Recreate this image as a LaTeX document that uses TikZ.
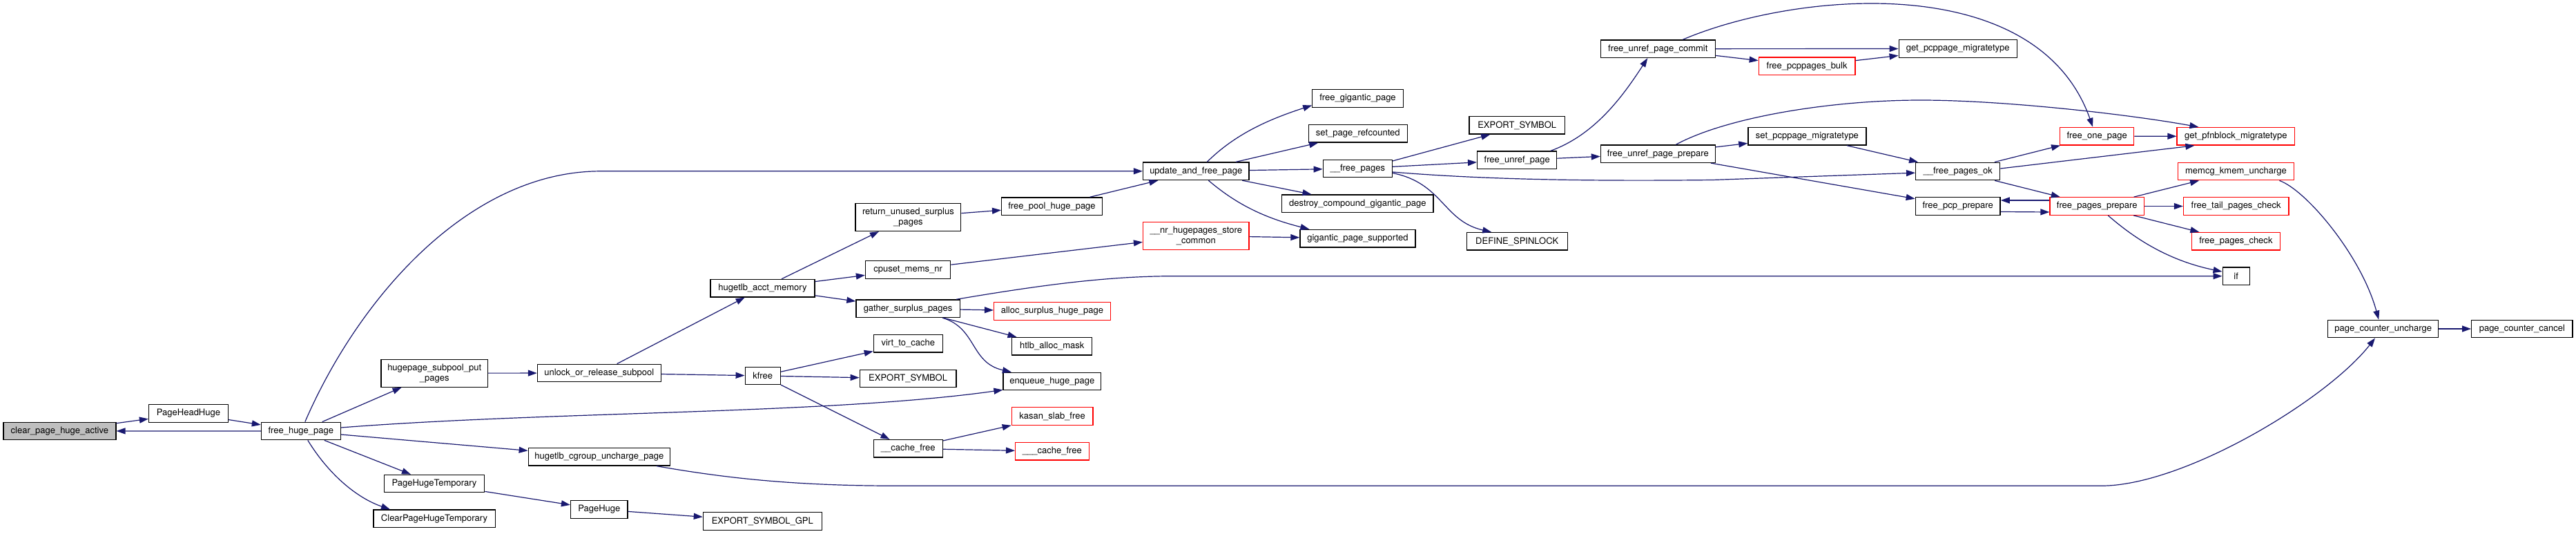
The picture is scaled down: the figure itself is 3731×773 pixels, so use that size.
\documentclass[tikz,border=0pt]{standalone}
\usepackage{fontspec}
\setmainfont{TeX Gyre Heros}
\usetikzlibrary{arrows.meta}
\definecolor{edgeblue}{HTML}{191970}
\definecolor{rootgray}{HTML}{BFBFBF}
\definecolor{boxred}{HTML}{FF0000}
\newcommand{\dxfont}{\fontsize{13}{15}\selectfont}
\begin{document}
\begin{tikzpicture}[x=1pt,y=-1pt,
  fn/.style={draw=black, line width=1.3pt, rectangle, inner sep=0pt, minimum height=25.5pt, font=\dxfont, align=center, fill=white},
  fnred/.style={fn, draw=boxred},
  fnroot/.style={fn, fill=rootgray},
  twoline/.style={minimum height=40pt},
  call/.style={draw=edgeblue, line width=1.2pt, -{Triangle[length=13pt,width=9pt]}, fill=none}]
\fill[white] (0,0) rectangle (3731,773);
\useasboundingbox (0,0) rectangle (3731,773);

\node[fnroot, minimum width=163pt] (clear) at (86.4,623.9) {clear\_page\_huge\_active};
\node[fn, minimum width=115pt] (phh) at (273,598.4) {PageHeadHuge};
\node[fn, minimum width=114.7pt] (fhp) at (435.8,624) {free\_huge\_page};
\node[fn, twoline, minimum width=154.7pt] (hspp) at (629.2,540.2) {hugepage\_subpool\_put\\\_pages};
\node[fn, minimum width=145.3pt] (pht) at (629,700) {PageHugeTemporary};
\node[fn, minimum width=176.3pt] (cpht) at (629,750.8) {ClearPageHugeTemporary};
\node[fn, minimum width=178.7pt] (uors) at (867.8,540) {unlock\_or\_release\_subpool};
\node[fn, minimum width=151pt] (ham) at (1104.5,417.2) {hugetlb\_acct\_memory};
\node[fn, minimum width=51pt] (kfree) at (1104.7,544) {kfree};
\node[fn, minimum width=205pt] (hcup) at (867.8,661.2) {hugetlb\_cgroup\_uncharge\_page};
\node[fn, minimum width=82.5pt] (ph) at (867.8,737.4) {PageHuge};
\node[fn, minimum width=171.8pt] (esg) at (1104.3,754.5) {EXPORT\_SYMBOL\_GPL};
\node[fn, minimum width=153.5pt] (ufp) at (1732.3,247.8) {update\_and\_free\_page};
\node[fn, twoline, minimum width=152.8pt] (russ) at (1315.4,314.5) {return\_unused\_surplus\\\_pages};
\node[fn, minimum width=145.7pt] (fphp) at (1523.5,298.7) {free\_pool\_huge\_page};
\node[fnred, twoline, minimum width=153.5pt] (nhsc) at (1732.3,341.3) {\_\_nr\_hugepages\_store\\\_common};
\node[fn, minimum width=123.2pt] (cmn) at (1315.1,390.5) {cpuset\_mems\_nr};
\node[fn, minimum width=150.2pt] (gsp) at (1315.1,446.7) {gather\_surplus\_pages};
\node[fnred, minimum width=168.6pt] (ashp) at (1523.9,450.5) {alloc\_surplus\_huge\_page};
\node[fn, minimum width=100pt] (vtc) at (1315.3,497.3) {virt\_to\_cache};
\node[fn, minimum width=115.9pt] (hlam) at (1523.7,501.3) {htlb\_alloc\_mask};
\node[fn, minimum width=139.6pt] (esb) at (1315.1,548) {EXPORT\_SYMBOL};
\node[fn, minimum width=141.7pt] (ehp) at (1523.9,552) {enqueue\_huge\_page};
\node[fnred, minimum width=117.6pt] (ksf) at (1524.1,602.5) {kasan\_slab\_free};
\node[fn, minimum width=100pt] (cf) at (1315.3,649.3) {\_\_cache\_free};
\node[fnred, minimum width=106.5pt] (ccf) at (1523.9,653.3) {\_\_\_cache\_free};
\node[fn, minimum width=131.4pt] (fgp) at (1966.5,142.5) {free\_gigantic\_page};
\node[fn, minimum width=143.3pt] (spr) at (1966.8,193.3) {set\_page\_refcounted};
\node[fn, minimum width=100pt] (fp) at (1966.3,244) {\_\_free\_pages};
\node[fn, minimum width=219.2pt] (dcgp) at (1966.3,294.7) {destroy\_compound\_gigantic\_page};
\node[fn, minimum width=166.9pt] (gps) at (1966.4,345.2) {gigantic\_page\_supported};
\node[fn, minimum width=138.7pt] (esa) at (2197.2,181.3) {EXPORT\_SYMBOL};
\node[fn, minimum width=115.1pt] (fup) at (2197.2,231.8) {free\_unref\_page};
\node[fn, minimum width=146.1pt] (dsl) at (2197.2,349.3) {DEFINE\_SPINLOCK};
\node[fn, minimum width=165.7pt] (fupc) at (2401.3,70.7) {free\_unref\_page\_commit};
\node[fn, minimum width=165.7pt] (fupp) at (2401.3,222.7) {free\_unref\_page\_prepare};
\node[fnred, minimum width=139.6pt] (fpb) at (2617.1,95.8) {free\_pcppages\_bulk};
\node[fn, minimum width=171pt] (gpm) at (2835.7,70.5) {get\_pcppage\_migratetype};
\node[fn, minimum width=171.1pt] (spm) at (2617.4,197.3) {set\_pcppage\_migratetype};
\node[fn, minimum width=122pt] (fpo) at (2835.7,248) {\_\_free\_pages\_ok};
\node[fn, minimum width=122.8pt] (fpcp) at (2835.7,298.5) {free\_pcp\_prepare};
\node[fnred, minimum width=106.9pt] (fop) at (3037.2,197.2) {free\_one\_page};
\node[fnred, minimum width=136.3pt] (fpp) at (3037.2,298.5) {free\_pages\_prepare};
\node[fnred, minimum width=170.6pt] (gpbm) at (3238.4,197.3) {get\_pfnblock\_migratetype};
\node[fnred, minimum width=168.2pt] (mku) at (3238.4,248) {memcg\_kmem\_uncharge};
\node[fnred, minimum width=152.5pt] (ftpc) at (3238.7,298.5) {free\_tail\_pages\_check};
\node[fnred, minimum width=128pt] (fpc) at (3238.4,349.3) {free\_pages\_check};
\node[fn, minimum width=39.1pt] (ifn) at (3238.7,399.7) {if};
\node[fn, minimum width=160.2pt] (pcu) at (3451.7,476) {page\_counter\_uncharge};
\node[fn, minimum width=146.1pt] (pcc) at (3652.8,476) {page\_counter\_cancel};

\draw[call] (clear) -- (phh);
\draw[call] (phh) -- (fhp);
\draw[call] (fhp) -- (clear);
\draw[call] ([xshift=6pt]fhp.north) .. controls (520,430) and (680,247.8) .. (870,247.8) -- (ufp.west);
\draw[call] (fhp) -- (hspp);
\draw[call] ([yshift=5pt]fhp.east) .. controls (800,595) and (1200,600) .. ([yshift=1pt]ehp.south west);
\draw[call] (fhp) -- (hcup);
\draw[call] (fhp) -- (pht);
\draw[call] ([xshift=10pt]fhp.south) .. controls (475,685) and (515,720) .. ([xshift=-64pt]cpht.north);
\draw[call] (hspp) -- (uors);
\draw[call] (uors) -- (ham);
\draw[call] (uors) -- (kfree);
\draw[call] (ham) -- (russ);
\draw[call] (ham) -- (cmn);
\draw[call] (ham) -- (gsp);
\draw[call] (russ) -- (fphp);
\draw[call] (fphp) -- (ufp);
\draw[call] (cmn) -- (nhsc);
\draw[call] (nhsc) -- (gps);
\draw[call] ([xshift=16pt]ufp.north) .. controls (1790,193) and (1840,172) .. ([yshift=-10pt]fgp.west);
\draw[call] (ufp) -- (spr);
\draw[call] (ufp) -- (fp);
\draw[call] (ufp) -- (dcgp);
\draw[call] ([xshift=18pt]ufp.south) .. controls (1790,295) and (1830,315) .. ([xshift=-70pt]gps.north);
\draw[call] ([xshift=70pt]gsp.north) .. controls (1500,414) and (1600,399.7) .. (1700,399.7) -- (ifn.west);
\draw[call] (gsp) -- (ashp);
\draw[call] (gsp) -- (hlam);
\draw[call] ([xshift=50pt]gsp.south) .. controls (1415,475) and (1405,525) .. ([xshift=-59pt]ehp.north);
\draw[call] (kfree) -- (vtc);
\draw[call] (kfree) -- (esb);
\draw[call] (kfree) -- (cf);
\draw[call] (cf) -- (ksf);
\draw[call] (cf) -- (ccf);
\draw[call] ([xshift=83pt]hcup.south) .. controls (1050,692) and (1150,703.3) .. (1300,703.3) -- (3043,703.3) .. controls (3163,703.3) and (3370,578.7) .. ([xshift=-11.7pt]pcu.south);
\draw[call] (pht) -- (ph);
\draw[call] (ph) -- (esg);
\draw[call] ([yshift=11pt]fp.east) -- ([xshift=-39pt]esa.south);
\draw[call] (fp) -- (fup);
\draw[call] ([yshift=-5pt]fp.east) .. controls (2150,260) and (2300,262.5) .. (2480,260.5) -- (fpo);
\draw[call] ([yshift=-6.5pt]fp.east) .. controls (2090,265) and (2090,320) .. ([xshift=-37pt]dsl.north);
\draw[call] ([xshift=48.5pt]fup.north) .. controls (2310,195) and (2350,140) .. ([xshift=-15pt]fupc.south);
\draw[call] (fup) -- (fupp);
\draw[call] ([xshift=36pt]fupc.north) .. controls (2600,-12) and (2950,-45) .. ([xshift=-6pt]fop.north);
\draw[call] (fupc) -- (gpm);
\draw[call] (fupc) -- (fpb);
\draw[call] (fpb) -- (gpm);
\draw[call] ([xshift=26pt]fupp.north) .. controls (2500,170) and (2650,145) .. (2782,145) .. controls (2900,145) and (3080,165) .. ([xshift=-54pt]gpbm.north);
\draw[call] (fupp) -- (spm);
\draw[call] (fupp) -- (fpcp);
\draw[call] (spm) -- (fpo);
\draw[call] (fpo) -- (fop);
\draw[call] ([yshift=4pt]fpo.east) -- ([xshift=-60pt]gpbm.south);
\draw[call] (fpo) -- (fpp);
\draw[call] ([yshift=-8pt]fpcp.east) -- ([yshift=-8.5pt]fpp.west);
\draw[call] ([yshift=8.5pt]fpp.west) -- ([yshift=8.5pt]fpcp.east);
\draw[call] (fop) -- (gpbm);
\draw[call] (fpp) -- (mku);
\draw[call] (fpp) -- (ftpc);
\draw[call] (fpp) -- (fpc);
\draw[call] ([xshift=16pt]fpp.south) .. controls (3080,335) and (3130,375) .. ([yshift=6.5pt]ifn.west);
\draw[call] ([xshift=63pt]mku.south) .. controls (3340,275) and (3420,370) .. ([xshift=-6.5pt]pcu.north);
\draw[call] (pcu) -- (pcc);
\end{tikzpicture}
\end{document}
